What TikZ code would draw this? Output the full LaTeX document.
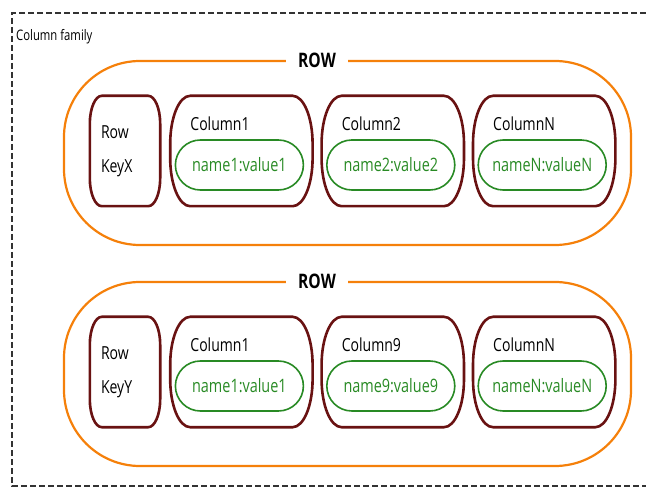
\documentclass[tikz,border=0pt]{standalone}
\usepackage{fontspec}
\setmainfont[FakeStretch=0.78]{Open Sans}
\usepackage{tikz}
\usetikzlibrary{positioning,shapes.misc}
\definecolor{row_orange}{RGB}{245,128,10}
\definecolor{col_red}{RGB}{105,18,18}
\definecolor{cell_green}{RGB}{40,138,36}
\tikzset{
family_frame/.style={draw=black!80, line width=1.1pt, dash pattern=on 6pt off 3pt},
row_frame/.style={rectangle, draw=row_orange, line width=2.2pt, rounded corners=76pt, minimum width=567pt, minimum height=184pt},
row_title/.style={rectangle, fill=white, inner xsep=12pt, inner ysep=2pt, font=\bfseries\fontsize{20}{20}\selectfont},
key_box/.style={rectangle, minimum width=70pt, minimum height=110pt, text width=48pt, align=left, font=\fontsize{18}{34}\selectfont},
column_box/.style={rectangle, minimum width=142pt, minimum height=110pt},
box_line/.style={draw=col_red, line width=2.6pt},
column_title/.style={anchor=west, inner sep=0pt, font=\fontsize{18}{18}\selectfont},
cell/.style={rounded rectangle, draw=cell_green, line width=1.6pt, text=cell_green, minimum width=134pt, minimum height=50pt, inner xsep=3pt, font=\fontsize{18.5}{18.5}\selectfont}
}
% outline with elliptic corners round a node: name, x radius, y radius
\newcommand{\bulgebox}[3]{%
  \draw[box_line] ([xshift=#2]#1.north west) -- ([xshift=-#2]#1.north east)
    arc[start angle=90, end angle=0, x radius=#2, y radius=#3] -- ([yshift=#3]#1.south east)
    arc[start angle=0, end angle=-90, x radius=#2, y radius=#3] -- ([xshift=#2]#1.south west)
    arc[start angle=270, end angle=180, x radius=#2, y radius=#3] -- ([yshift=-#3]#1.north west)
    arc[start angle=180, end angle=90, x radius=#2, y radius=#3] -- cycle;}

\begin{document}
\begin{tikzpicture}[x=1pt,y=-1pt]
    \useasboundingbox (0,0) rectangle (646,489);
    % column family
    \coordinate (fam_ne) at (646,13);
    \coordinate (fam_se) at (646,486);
    \draw[family_frame] (fam_ne) -- (12,13) -- (12,486) -- (fam_se);
    \node[anchor=west, inner sep=0pt, font=\fontsize{14.5}{14.5}\selectfont] (family) at (16,37) {Column family};

    % first row
    \node[row_frame] (row_1) at (347.5,153) {};
    \node[row_title] (row_1_title) at (row_1.north -| 317,0) {ROW};
    \node[key_box] (key_1) at (125,151) {Row\\KeyX};
    \node[column_box] (col_1_1) [right=10pt of key_1] {};
    \node[column_box] (col_1_2) [right=9pt of col_1_1] {};
    \node[column_box] (col_1_3) [right=9pt of col_1_2] {};
    \node[column_title] (title_1_1) at ([xshift=20pt,yshift=-28pt]col_1_1.north west) {Column1};
    \node[column_title] (title_1_2) at ([xshift=20pt,yshift=-28pt]col_1_2.north west) {Column2};
    \node[column_title] (title_1_3) at ([xshift=20pt,yshift=-28pt]col_1_3.north west) {ColumnN};
    \node[cell] (cell_1_1) at ([xshift=-2pt,yshift=-14pt]col_1_1.center) {name1:value1};
    \node[cell] (cell_1_2) at ([xshift=-2pt,yshift=-14pt]col_1_2.center) {name2:value2};
    \node[cell] (cell_1_3) at ([xshift=-2pt,yshift=-14pt]col_1_3.center) {nameN:valueN};

    % second row
    \node[row_frame] (row_2) at (347.5,374) {};
    \node[row_title] (row_2_title) at (row_2.north -| 317,0) {ROW};
    \node[key_box] (key_2) at (125,372) {Row\\KeyY};
    \node[column_box] (col_2_1) [right=10pt of key_2] {};
    \node[column_box] (col_2_2) [right=9pt of col_2_1] {};
    \node[column_box] (col_2_3) [right=9pt of col_2_2] {};
    \node[column_title] (title_2_1) at ([xshift=20pt,yshift=-28pt]col_2_1.north west) {Column1};
    \node[column_title] (title_2_2) at ([xshift=20pt,yshift=-28pt]col_2_2.north west) {Column9};
    \node[column_title] (title_2_3) at ([xshift=20pt,yshift=-28pt]col_2_3.north west) {ColumnN};
    \node[cell] (cell_2_1) at ([xshift=-2pt,yshift=-14pt]col_2_1.center) {name1:value1};
    \node[cell] (cell_2_2) at ([xshift=-2pt,yshift=-14pt]col_2_2.center) {name9:value9};
    \node[cell] (cell_2_3) at ([xshift=-2pt,yshift=-14pt]col_2_3.center) {nameN:valueN};

    % key and column outlines
    \foreach \b in {key_1,key_2}
        \bulgebox{\b}{12pt}{28pt};
    \foreach \b in {col_1_1,col_1_2,col_1_3,col_2_1,col_2_2,col_2_3}
        \bulgebox{\b}{20pt}{48pt};
\end{tikzpicture}
\end{document}
